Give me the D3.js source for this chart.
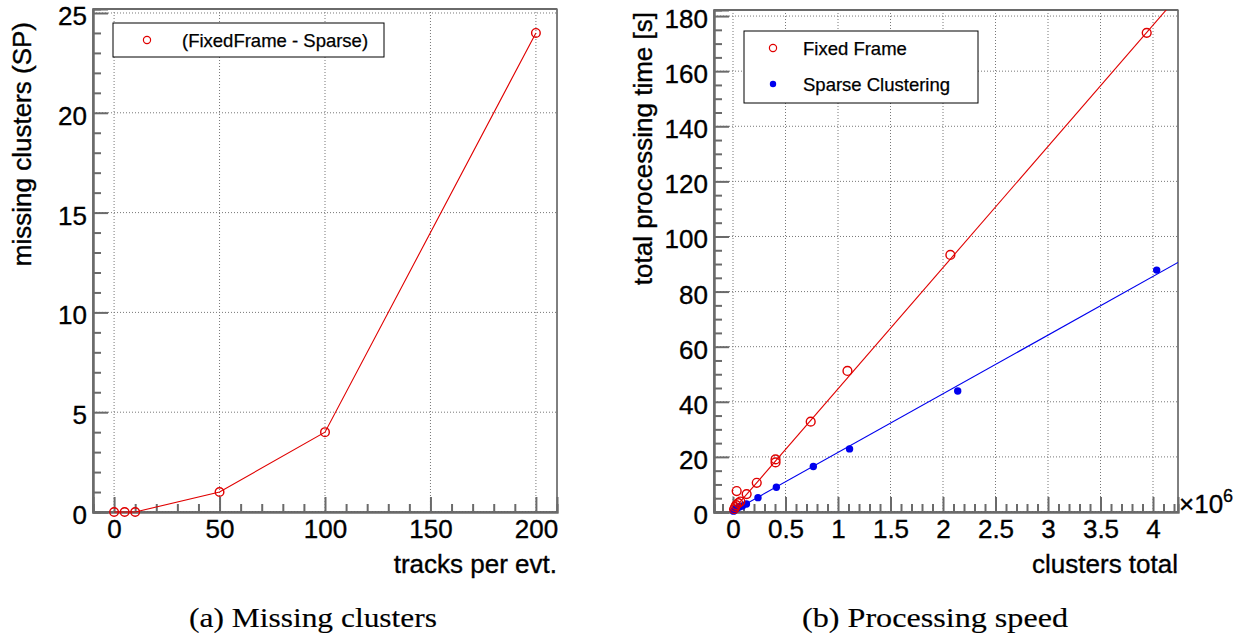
<!doctype html>
<html>
<head>
<meta charset='utf-8'>
<style>
  body { margin: 0; background: #fff; }
  svg text { font-family: 'Liberation Sans', Arial, sans-serif; fill: #000; stroke: #000; stroke-width: 0.35px; }
  svg text.caption { font-family: 'Liberation Serif', 'Times New Roman', serif; stroke-width: 0.15px; }
</style>
</head>
<body>
<svg id='fig' width='1253' height='637'></svg>
<script src='https://cdn.jsdelivr.net/npm/d3@7/dist/d3.min.js'></script>
<script>

// (a) missing clusters vs tracks per event
const tracks = [0, 5, 10, 50, 100, 200];
const missing = [0, 0, 0, 1, 4, 24];

// (b) processing time vs total clusters (x in units of 10^6)
const fixedX = [0.01, 0.02, 0.03, 0.05, 0.07, 0.035, 0.13, 0.226, 0.405, 0.405, 0.74, 1.09, 2.07, 3.94];
const fixedY = [1.0, 1.8, 2.5, 3.2, 3.8, 7.6, 6.5, 10.6, 18.0, 19.1, 32.8, 51.2, 93.3, 173.9];
const sparseX = [0.005, 0.01, 0.02, 0.04, 0.06, 0.09, 0.128, 0.238, 0.413, 0.765, 1.11, 2.14, 4.035];
const sparseY = [0.3, 0.6, 1.0, 1.4, 1.8, 2.2, 2.9, 5.2, 9.0, 16.5, 22.9, 43.9, 87.8];
// linear fits: [slope, intercept]
const fixedFit = [44.0, 0.7];
const sparseFit = [21.3, 0.3];

const RED = '#e00000';
const BLUE = '#0000ee';
const AXIS = '#6a6a6a';

const svg = d3.select('#fig');

function panel(cfg){
  const x = d3.scaleLinear().domain(cfg.xDomain).range([cfg.x0, cfg.x1]);
  const y = d3.scaleLinear().domain(cfg.yDomain).range([cfg.y1, cfg.y0]);
  const g = svg.append('g');

  const xMajor = d3.range(cfg.xTicks[0], cfg.xTicks[1] + 1e-9, cfg.xTicks[2]);
  const yMajor = d3.range(cfg.yTicks[0], cfg.yTicks[1] + 1e-9, cfg.yTicks[2]);
  const xMinor = d3.range(Math.ceil(cfg.xDomain[0] / cfg.xMinor) * cfg.xMinor, cfg.xDomain[1], cfg.xMinor)
    .filter(v => !xMajor.some(m => Math.abs(m - v) < 1e-6));
  const yMinor = d3.range(Math.ceil(cfg.yDomain[0] / cfg.yMinor) * cfg.yMinor, cfg.yDomain[1], cfg.yMinor)
    .filter(v => !yMajor.some(m => Math.abs(m - v) < 1e-6));

  // grid
  g.selectAll('.gx').data(xMajor).enter().append('line')
    .attr('x1', d => x(d)).attr('x2', d => x(d))
    .attr('y1', cfg.y0).attr('y2', cfg.y1)
    .attr('stroke', '#777').attr('stroke-width', 1).attr('stroke-dasharray', '1,2');
  g.selectAll('.gy').data(yMajor).enter().append('line')
    .attr('x1', cfg.x0).attr('x2', cfg.x1)
    .attr('y1', d => y(d)).attr('y2', d => y(d))
    .attr('stroke', '#777').attr('stroke-width', 1).attr('stroke-dasharray', '1,2');

  // frame
  g.append('rect')
    .attr('x', cfg.x0).attr('y', cfg.y0)
    .attr('width', cfg.x1 - cfg.x0).attr('height', cfg.y1 - cfg.y0)
    .attr('fill', 'none').attr('stroke', '#000').attr('stroke-width', 1);
  g.append('line')
    .attr('x1', cfg.x0).attr('x2', cfg.x1).attr('y1', cfg.y0).attr('y2', cfg.y0)
    .attr('stroke', AXIS).attr('stroke-width', 2);

  // axes
  const fmt = d3.format('~g');
  const xAxis = g.append('g').attr('transform', `translate(0,${cfg.y1})`)
    .call(d3.axisBottom(x).tickValues(xMajor).tickSize(-15).tickPadding(8).tickFormat(fmt));
  xAxis.append('g')
    .call(d3.axisBottom(x).tickValues(xMinor).tickSize(-8).tickFormat(''));
  const yAxis = g.append('g').attr('transform', `translate(${cfg.x0},0)`)
    .call(d3.axisLeft(y).tickValues(yMajor).tickSize(-15).tickPadding(6).tickFormat(fmt));
  yAxis.append('g')
    .call(d3.axisLeft(y).tickValues(yMinor).tickSize(-8).tickFormat(''));
  yAxis.selectAll('.tick text').attr('dy', '0.44em');
  g.selectAll('.domain').attr('stroke', AXIS).attr('stroke-width', 2);
  g.selectAll('.tick line').attr('stroke', AXIS).attr('stroke-width', 2);
  g.selectAll('.tick text').style('font-size', '26px').attr('fill', '#000');

  // titles
  g.append('text')
    .attr('x', cfg.x1).attr('y', cfg.y1 + 61)
    .attr('text-anchor', 'end').style('font-size', '26px')
    .text(cfg.xTitle);
  g.append('text')
    .attr('transform', `translate(${cfg.yTitleX},${cfg.y0 + cfg.yTitleOff}) rotate(-90)`)
    .attr('text-anchor', 'end').style('font-size', '26px')
    .text(cfg.yTitle);

  const clipId = 'clip' + cfg.x0;
  svg.append('clipPath').attr('id', clipId).append('rect')
    .attr('x', cfg.x0).attr('y', cfg.y0)
    .attr('width', cfg.x1 - cfg.x0).attr('height', cfg.y1 - cfg.y0);

  return {x, y, g, clip: `url(#${clipId})`};
}

// ---- panel (a)
const pa = panel({
  x0: 93, x1: 557, y0: 9, y1: 512,
  xDomain: [-10, 210], yDomain: [0, 25.2],
  xTicks: [0, 200, 50], yTicks: [0, 25, 5], xMinor: 10, yMinor: 1,
  xTitle: 'tracks per evt.', yTitle: 'missing clusters (SP)',
  yTitleX: 31, yTitleOff: 13
});
const ptsA = tracks.map((t, i) => [t, missing[i]]);
pa.g.append('path')
  .datum(ptsA)
  .attr('d', d3.line().x(d => pa.x(d[0])).y(d => pa.y(d[1])))
  .attr('fill', 'none').attr('stroke', RED).attr('stroke-width', 1.1);
pa.g.selectAll('.ma').data(ptsA).enter().append('circle')
  .attr('cx', d => pa.x(d[0])).attr('cy', d => pa.y(d[1])).attr('r', 4.3)
  .attr('fill', 'none').attr('stroke', RED).attr('stroke-width', 1.4);

// legend (a)
pa.g.append('rect').attr('x', 113).attr('y', 23).attr('width', 271).attr('height', 34)
  .attr('fill', '#fff').attr('stroke', '#000').attr('stroke-width', 1);
pa.g.append('circle').attr('cx', 147).attr('cy', 40).attr('r', 3.6)
  .attr('fill', 'none').attr('stroke', RED).attr('stroke-width', 1.2);
pa.g.append('text').attr('x', 182).attr('y', 47).style('font-size', '18.5px')
  .style('stroke-width', '0.25px').text('(FixedFrame - Sparse)');

// ---- panel (b)
const pb = panel({
  x0: 714, x1: 1178, y0: 10, y1: 512,
  xDomain: [-0.181, 4.238], yDomain: [0, 182.2],
  xTicks: [0, 4, 0.5], yTicks: [0, 180, 20], xMinor: 0.1, yMinor: 5,
  xTitle: 'clusters total', yTitle: 'total processing time [s]',
  yTitleX: 652, yTitleOff: 2
});
const fitLine = (fit) => [[0, fit[1]], [pb.x.domain()[1], fit[0] * pb.x.domain()[1] + fit[1]]];
pb.g.append('path').datum(fitLine(sparseFit))
  .attr('d', d3.line().x(d => pb.x(d[0])).y(d => pb.y(d[1])))
  .attr('clip-path', pb.clip)
  .attr('fill', 'none').attr('stroke', BLUE).attr('stroke-width', 1.1);
pb.g.append('path').datum(fitLine(fixedFit))
  .attr('d', d3.line().x(d => pb.x(d[0])).y(d => pb.y(d[1])))
  .attr('clip-path', pb.clip)
  .attr('fill', 'none').attr('stroke', RED).attr('stroke-width', 1.1);
pb.g.selectAll('.ms').data(sparseX).enter().append('circle')
  .attr('cx', d => pb.x(d)).attr('cy', (d, i) => pb.y(sparseY[i])).attr('r', 3.7)
  .attr('fill', BLUE);
pb.g.selectAll('.mf').data(fixedX).enter().append('circle')
  .attr('cx', d => pb.x(d)).attr('cy', (d, i) => pb.y(fixedY[i])).attr('r', 4.4)
  .attr('fill', 'none').attr('stroke', RED).attr('stroke-width', 1.4);

// x10^6 multiplier
const mult = pb.g.append('text').attr('x', 1179).attr('y', 513).style('font-size', '26px');
mult.append('tspan').text('\u00d710');
mult.append('tspan').attr('dy', -11).style('font-size', '18px').text('6');

// legend (b)
pb.g.append('rect').attr('x', 744).attr('y', 31).attr('width', 234).attr('height', 72)
  .attr('fill', '#fff').attr('stroke', '#000').attr('stroke-width', 1);
pb.g.append('circle').attr('cx', 773).attr('cy', 48).attr('r', 3.6)
  .attr('fill', 'none').attr('stroke', RED).attr('stroke-width', 1.2);
pb.g.append('circle').attr('cx', 773).attr('cy', 84).attr('r', 3.2)
  .attr('fill', BLUE);
pb.g.append('text').attr('x', 803).attr('y', 55).style('font-size', '18.5px')
  .style('stroke-width', '0.25px').text('Fixed Frame');
pb.g.append('text').attr('x', 803).attr('y', 91).style('font-size', '18.5px')
  .style('stroke-width', '0.25px').text('Sparse Clustering');

// captions
svg.append('text').attr('class', 'caption')
  .attr('x', 313).attr('y', 627).attr('text-anchor', 'middle')
  .attr('textLength', 248).attr('lengthAdjust', 'spacingAndGlyphs')
  .style('font-size', '27px').text('(a) Missing clusters');
svg.append('text').attr('class', 'caption')
  .attr('x', 935).attr('y', 627).attr('text-anchor', 'middle')
  .attr('textLength', 266).attr('lengthAdjust', 'spacingAndGlyphs')
  .style('font-size', '27px').text('(b) Processing speed');

</script>
</body>
</html>
